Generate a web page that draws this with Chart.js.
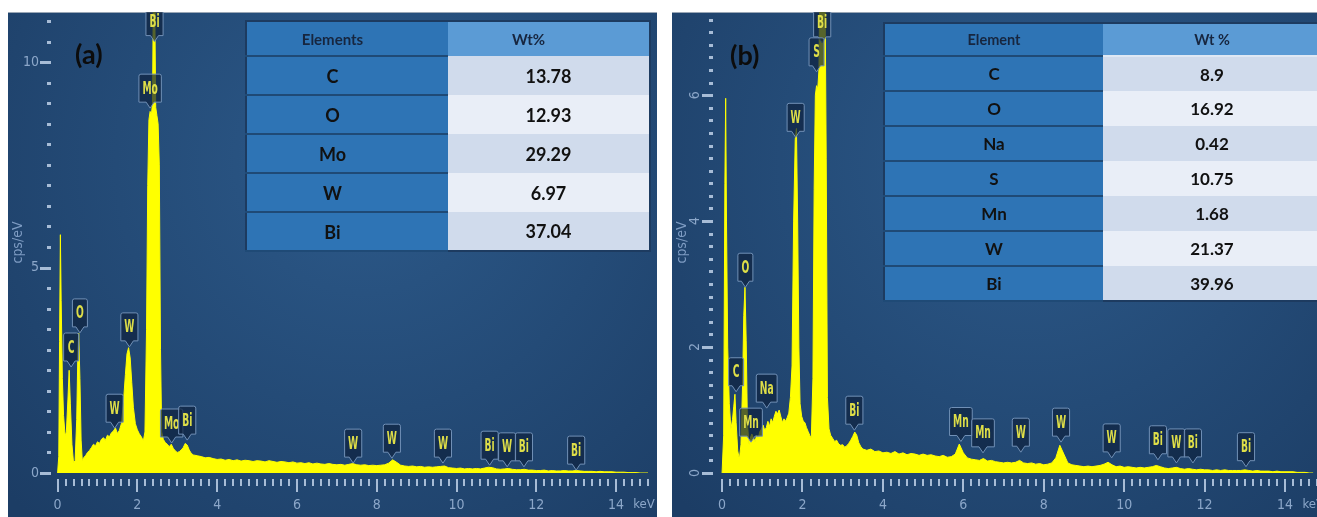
<!DOCTYPE html>
<html>
<head>
<meta charset="utf-8">
<script src="https://cdn.jsdelivr.net/npm/chart.js@4.4.0/dist/chart.umd.min.js"></script>
<style>
  body { margin: 0; background: #fff; width: 1317px; height: 517px; overflow: hidden; position: relative; font-family: Lato, sans-serif; }
  .panel { position: absolute; top: 12px; height: 505px; overflow: hidden; }
  #pa { left: 8px; width: 649px; }
  #pb { left: 672px; width: 645px; }
  .panel canvas { position: absolute; left: 0; top: 0; }
  .tag { position: absolute; font: bold 27px Lato, sans-serif; color: #0c0c0c; line-height: 1; }
  table.wt { position: absolute; border-collapse: collapse; border: 2px solid #1d3b60; table-layout: fixed; font-family: Lato, sans-serif; font-weight: bold; }
  table.wt td { padding: 0; text-align: center; color: #111; }
  table.wt td.el { background: #2e74b5; border-bottom: 2px solid #1f4a76; }
  table.wt tr.hd td { color: #17263f; }
  table.wt tr.hd td.v { background: #5b9bd5; }
  table.wt tr.odd td.v { background: #d0dbec; }
  table.wt tr.even td.v { background: #e9eef7; }
  #ta { left: 237px; top: 8px; width: 406px; }
  #ta td { height: 37px; font-size: 18px; }
  #ta td.el { padding-right: 30px; }
  #ta tr.hd td { height: 33px; font-size: 15px; }
  #ta tr.hd td.v { padding-right: 40px; }
  #tb { left: 211px; top: 10px; width: 440px; }
  #tb td { height: 33px; font-size: 17px; }
  #tb tr.hd td { height: 31px; font-size: 14.5px; }
  #tb tr.hd td.v { border-bottom: 2px solid #dfe8f4; }
</style>
</head>
<body>
<div class="panel" id="pa"><canvas id="chartA" width="649" height="505"></canvas><table class="wt" id="ta"></table></div>
<div class="panel" id="pb"><canvas id="chartB" width="645" height="505"></canvas><table class="wt" id="tb"></table></div>
<div class="tag" style="left:75px;top:40px">(a)</div>
<div class="tag" style="left:730px;top:41px">(b)</div>
<script>
// spectrum (a)
const keVA = [
  0.00,0.03,0.05,0.07,0.09,0.12,0.15,0.19,0.22,0.26,
  0.29,0.32,0.36,0.40,0.44,0.48,0.51,0.53,0.56,0.59,
  0.62,0.66,0.70,0.75,0.80,0.85,0.90,0.95,1.00,1.05,
  1.10,1.15,1.20,1.25,1.30,1.35,1.40,1.45,1.50,1.55,
  1.60,1.65,1.70,1.74,1.78,1.82,1.86,1.90,1.95,2.00,
  2.05,2.10,2.15,2.19,2.23,2.26,2.29,2.32,2.35,2.38,
  2.40,2.42,2.44,2.46,2.49,2.52,2.55,2.58,2.61,2.65,
  2.70,2.75,2.80,2.85,2.90,2.95,3.00,3.05,3.10,3.15,
  3.20,3.25,3.30,3.35,3.40,3.50,3.60,3.70,3.80,3.90,
  4.0,4.1,4.2,4.3,4.4,4.5,4.6,4.7,4.8,4.9,
  5.0,5.1,5.2,5.3,5.4,5.5,5.6,5.7,5.8,5.9,
  6.0,6.1,6.2,6.3,6.4,6.5,6.6,6.7,6.8,6.9,
  7.0,7.1,7.2,7.3,7.4,7.5,7.6,7.7,7.8,7.9,
  8.0,8.1,8.2,8.3,8.4,8.5,8.6,8.7,8.8,8.9,
  9.0,9.1,9.2,9.3,9.4,9.5,9.6,9.7,9.8,9.9,
  10.0,10.1,10.2,10.3,10.4,10.5,10.6,10.7,10.8,10.9,
  11.0,11.1,11.2,11.3,11.4,11.5,11.6,11.7,11.8,11.9,
  12.0,12.1,12.2,12.3,12.4,12.5,12.6,12.7,12.8,12.9,
  13.0,13.1,13.2,13.3,13.4,13.5,13.6,13.7,13.8,13.9,
  14.0,14.1,14.2,14.3,14.4,14.5,14.6,14.7,14.8
];
const cpsA = [
  0,0.4,3.2,5.8,4.2,2.3,1.4,0.9,1.0,1.8,
  2.5,1.7,0.7,0.25,0.3,1.3,3.0,3.4,2.3,0.8,
  0.3,0.38,0.42,0.5,0.55,0.62,0.7,0.66,0.76,0.72,
  0.82,0.86,0.8,0.92,0.88,0.98,1.02,1.1,0.96,1.04,
  1.2,1.7,2.4,2.9,3.05,2.8,2.2,1.6,1.2,1.05,
  0.95,0.88,0.78,1.0,3.5,7.0,8.6,8.8,8.7,9.0,
  11.6,12.5,11.0,8.9,8.7,8.5,7.5,3.0,1.0,0.82,
  0.74,0.7,0.64,0.7,0.6,0.54,0.5,0.52,0.56,0.62,
  0.72,0.68,0.56,0.48,0.44,0.42,0.4,0.37,0.38,0.35,
  0.33,0.34,0.31,0.33,0.3,0.32,0.29,0.31,0.3,0.28,
  0.3,0.29,0.27,0.3,0.28,0.26,0.28,0.27,0.25,0.27,
  0.24,0.25,0.23,0.25,0.22,0.24,0.22,0.21,0.23,0.21,
  0.2,0.21,0.19,0.21,0.23,0.2,0.19,0.2,0.18,0.19,
  0.18,0.19,0.2,0.24,0.32,0.26,0.19,0.17,0.16,0.17,
  0.15,0.16,0.14,0.15,0.14,0.15,0.16,0.17,0.13,0.12,
  0.11,0.12,0.1,0.11,0.1,0.11,0.1,0.12,0.14,0.13,
  0.1,0.09,0.1,0.11,0.09,0.08,0.08,0.09,0.07,0.07,
  0.06,0.06,0.07,0.05,0.06,0.05,0.05,0.06,0.05,0.05,
  0.06,0.05,0.04,0.04,0.04,0.03,0.04,0.03,0.03,0.03,
  0.02,0.02,0.02,0.01,0.01,0.01,0,0,0
];
// spectrum (b)
const keVB = [
  0.00,0.04,0.07,0.09,0.11,0.14,0.18,0.22,0.26,0.29,
  0.32,0.35,0.39,0.43,0.47,0.51,0.54,0.57,0.60,0.63,
  0.67,0.70,0.74,0.78,0.82,0.86,0.90,0.94,0.98,1.02,
  1.06,1.10,1.14,1.18,1.22,1.26,1.30,1.34,1.38,1.42,
  1.46,1.50,1.54,1.58,1.62,1.66,1.70,1.74,1.78,1.82,
  1.85,1.88,1.91,1.94,1.98,2.02,2.06,2.10,2.14,2.18,
  2.22,2.26,2.29,2.32,2.35,2.38,2.41,2.44,2.47,2.50,
  2.53,2.56,2.59,2.62,2.66,2.70,2.75,2.80,2.85,2.90,
  2.95,3.00,3.05,3.10,3.15,3.20,3.25,3.30,3.35,3.40,
  3.45,3.50,3.60,3.70,3.80,3.90,
  4.0,4.1,4.2,4.3,4.4,4.5,4.6,4.7,4.8,4.9,
  5.0,5.1,5.2,5.3,5.4,5.5,5.6,5.7,5.8,5.9,
  6.0,6.1,6.2,6.3,6.4,6.5,6.6,6.7,6.8,6.9,
  7.0,7.1,7.2,7.3,7.4,7.5,7.6,7.7,7.8,7.9,
  8.0,8.1,8.2,8.3,8.4,8.5,8.6,8.7,8.8,8.9,
  9.0,9.1,9.2,9.3,9.4,9.5,9.6,9.7,9.8,9.9,
  10.0,10.1,10.2,10.3,10.4,10.5,10.6,10.7,10.8,10.9,
  11.0,11.1,11.2,11.3,11.4,11.5,11.6,11.7,11.8,11.9,
  12.0,12.1,12.2,12.3,12.4,12.5,12.6,12.7,12.8,12.9,
  13.0,13.1,13.2,13.3,13.4,13.5,13.6,13.7,13.8,13.9,
  14.0,14.1,14.2,14.3,14.4,14.5,14.6,14.7
];
const cpsB = [
  0,0.6,4.6,5.95,4.0,2.0,1.1,0.7,0.85,1.05,
  1.25,0.8,0.35,0.22,0.45,1.4,2.5,2.95,2.1,0.8,
  0.45,0.55,0.62,0.56,0.5,0.6,0.55,0.66,0.7,0.76,
  0.68,0.72,0.82,0.74,0.86,0.8,0.9,0.98,0.94,1.0,
  0.9,0.8,0.86,0.82,0.88,0.95,1.2,1.7,4.0,5.3,
  5.47,4.0,2.0,1.1,0.9,0.82,0.8,0.72,0.66,0.6,
  0.55,1.5,4.5,6.0,6.15,6.1,6.4,8.5,8.9,8.8,
  8.4,7.8,5.0,1.2,0.7,0.6,0.55,0.5,0.52,0.46,
  0.44,0.45,0.41,0.43,0.47,0.52,0.58,0.65,0.6,0.48,
  0.42,0.38,0.36,0.38,0.34,0.35,
  0.32,0.33,0.31,0.34,0.3,0.32,0.29,0.31,0.3,0.28,
  0.3,0.28,0.29,0.27,0.26,0.28,0.25,0.26,0.3,0.46,
  0.32,0.24,0.22,0.21,0.2,0.23,0.19,0.2,0.18,0.17,
  0.16,0.17,0.16,0.17,0.2,0.16,0.15,0.16,0.14,0.15,
  0.13,0.14,0.16,0.24,0.44,0.3,0.16,0.13,0.12,0.11,
  0.1,0.11,0.1,0.11,0.12,0.14,0.17,0.13,0.1,0.11,
  0.09,0.1,0.09,0.08,0.09,0.08,0.09,0.1,0.12,0.1,
  0.08,0.07,0.08,0.09,0.07,0.06,0.07,0.06,0.05,0.06,
  0.05,0.05,0.04,0.05,0.04,0.05,0.04,0.04,0.04,0.04,
  0.05,0.04,0.03,0.04,0.03,0.03,0.03,0.02,0.03,0.02,
  0.02,0.02,0.02,0.01,0.01,0.01,0,0
];

// peak tags: element, keV, value the pointer touches
const peakNamesA = ['Bi','Mo','O','C','W','W','Mo','Bi','W','W','W','Bi','W','Bi','Bi'];
const peakKeVA   = [2.43,2.32,0.56,0.34,1.80,1.43,2.86,3.25,7.41,8.38,9.66,10.83,11.27,11.69,13.0];
const peakTipA   = [10.5,8.88,3.41,2.58,3.07,1.09,0.73,0.8,0.24,0.36,0.24,0.19,0.15,0.15,0.07];
const peakNamesB = ['Bi','S','W','O','C','Mn','Na','Bi','Mn','Mn','W','W','W','Bi','W','Bi','Bi'];
const peakKeVB   = [2.49,2.35,1.83,0.58,0.35,0.72,1.11,3.29,5.94,6.49,7.43,8.43,9.69,10.84,11.3,11.71,13.03];
const peakTipB   = [6.83,6.37,5.33,2.95,1.29,0.49,1.03,0.68,0.5,0.32,0.33,0.49,0.24,0.21,0.16,0.16,0.1];

const xTicks = [0,2,4,6,8,10,12,14];
const yTicksA = [0,5,10];
const yTicksB = [0,2,4,6];

// composition tables
const headA = ['Elements','Wt%'];
const elementsA = ['C','O','Mo','W','Bi'];
const wtA = ['13.78','12.93','29.29','6.97','37.04'];
const headB = ['Element','Wt %'];
const elementsB = ['C','O','Na','S','Mn','W','Bi'];
const wtB = ['8.9','16.92','0.42','10.75','1.68','21.37','39.96'];

function buildTable(id, head, els, vals) {
  let html = '<tr class="hd"><td class="el">' + head[0] + '</td><td class="v">' + head[1] + '</td></tr>';
  els.forEach((e, i) => {
    html += '<tr class="' + (i % 2 ? 'even' : 'odd') + '"><td class="el">' + e + '</td><td class="v">' + vals[i] + '</td></tr>';
  });
  document.getElementById(id).innerHTML = html;
}
buildTable('ta', headA, elementsA, wtA);
buildTable('tb', headB, elementsB, wtB);

const labelFont = '"DejaVu Sans Condensed", "DejaVu Sans", sans-serif';

const edsDecor = {
  id: 'edsDecor',
  beforeDraw(chart) {
    const { ctx, width, height } = chart;
    const g = ctx.createRadialGradient(width * 0.55, height * 0.3, 10, width * 0.55, height * 0.3, width * 0.75);
    g.addColorStop(0, '#2c5989');
    g.addColorStop(1, '#1c3d65');
    ctx.save();
    ctx.fillStyle = g;
    ctx.fillRect(0, 0, width, height);
    ctx.fillStyle = '#9aa7b6';
    ctx.fillRect(0, 0, width, 1);
    ctx.restore();
  },
  afterDatasetsDraw(chart, args, o) {
    const { ctx, scales: { x, y } } = chart;
    ctx.save();
    ctx.font = 'bold 12px ' + labelFont;
    ctx.textAlign = 'center';
    ctx.textBaseline = 'middle';
    for (let i = 0; i < o.names.length; i++) {
      const name = o.names[i];
      const cx = x.getPixelForValue(o.keV[i]);
      const tip = y.getPixelForValue(o.tip[i]);
      const w = Math.max(15, ctx.measureText(name).width * 0.85 + 7);
      const bot = tip - 6, top = bot - 28;
      const x0 = cx - w / 2, x1 = cx + w / 2, r = 2;
      ctx.beginPath();
      ctx.moveTo(x0 + r, top);
      ctx.lineTo(x1 - r, top);
      ctx.quadraticCurveTo(x1, top, x1, top + r);
      ctx.lineTo(x1, bot);
      ctx.lineTo(cx + 4, bot);
      ctx.lineTo(cx, tip);
      ctx.lineTo(cx - 4, bot);
      ctx.lineTo(x0, bot);
      ctx.lineTo(x0, top + r);
      ctx.quadraticCurveTo(x0, top, x0 + r, top);
      ctx.closePath();
      ctx.fillStyle = 'rgba(14, 34, 62, 0.7)';
      ctx.fill();
      ctx.strokeStyle = '#7190b6';
      ctx.lineWidth = 1;
      ctx.stroke();
      ctx.save();
      ctx.translate(cx, (top + bot) / 2 + 1);
      ctx.scale(0.85, 1.45);
      ctx.fillStyle = '#dede48';
      ctx.fillText(name, 0, 0);
      ctx.restore();
    }
    ctx.restore();
  },
  afterDraw(chart, args, o) {
    const { ctx, chartArea: { left, bottom }, scales: { x, y } } = chart;
    ctx.save();
    ctx.fillStyle = '#a7bcd6';
    // x ticks every 0.2 keV, long ones every 2 keV
    const nx = Math.round(o.xEnd / 0.2);
    for (let i = 0; i <= nx; i++) {
      const px = Math.round(x.getPixelForValue(i * 0.2));
      const major = i % 10 === 0;
      ctx.fillRect(px - 1, bottom + 6, 2, major ? 13 : 7);
    }
    // y ticks
    const ny = Math.floor(y.max / o.yMinor);
    for (let i = 0; i <= ny; i++) {
      const v = i * o.yMinor;
      const py = Math.round(y.getPixelForValue(v));
      const major = o.yTicks.some(t => Math.abs(t - v) < 1e-6);
      if (major) ctx.fillRect(left - 8, py - 1, 11, 3);
      else ctx.fillRect(left - 1, py - 1, 4, 3);
    }
    ctx.fillStyle = '#8ca7c9';
    ctx.font = '14px ' + labelFont;
    ctx.textBaseline = 'middle';
    o.yTicks.forEach(t => {
      const py = y.getPixelForValue(t);
      if (o.rotateY) {
        ctx.save();
        ctx.translate(left - 15, py);
        ctx.rotate(-Math.PI / 2);
        ctx.textAlign = 'center';
        ctx.fillText(String(t), 0, 0);
        ctx.restore();
      } else {
        ctx.textAlign = 'right';
        ctx.fillText(String(t), left - 9, py);
      }
    });
    ctx.textAlign = 'center';
    ctx.font = '13px ' + labelFont;
    ctx.fillText('keV', x.getPixelForValue(14.7), bottom + 32);
    ctx.restore();
  }
};

function makeChart(id, keV, cps, opt) {
  const points = keV.map((k, i) => ({ x: k, y: cps[i] }));
  return new Chart(document.getElementById(id), {
    type: 'line',
    data: {
      datasets: [{
        data: points,
        borderColor: '#ffff00',
        backgroundColor: '#ffff00',
        borderWidth: 1,
        fill: 'origin',
        pointRadius: 0,
        tension: 0
      }]
    },
    options: {
      responsive: false,
      animation: false,
      events: [],
      layout: { padding: { left: 0, right: opt.padRight, top: 0, bottom: 0 } },
      plugins: {
        legend: { display: false },
        tooltip: { enabled: false },
        edsDecor: {
          names: opt.names, keV: opt.peakKeV, tip: opt.peakTip,
          yTicks: opt.yTicks, yMinor: opt.yMinor, rotateY: opt.rotateY, xEnd: opt.xMax
        }
      },
      scales: {
        x: {
          type: 'linear',
          min: opt.xMin,
          max: opt.xMax,
          afterBuildTicks: s => { s.ticks = xTicks.map(v => ({ value: v })); },
          afterFit: s => { s.height = 44; },
          grid: { display: false, drawTicks: false },
          border: { display: false },
          ticks: { color: '#8ca7c9', font: { size: 14, family: labelFont }, padding: 24, maxRotation: 0, autoSkip: false }
        },
        y: {
          type: 'linear',
          min: 0,
          max: opt.yMax,
          afterFit: s => { s.width = opt.yWidth; },
          grid: { display: false, drawTicks: false },
          border: { display: false },
          ticks: { display: false },
          title: { display: true, text: 'cps/eV', color: '#7e9cc3', font: { size: 14, family: labelFont }, padding: { top: 2, bottom: 0 } }
        }
      }
    },
    plugins: [edsDecor]
  });
}

makeChart('chartA', keVA, cpsA, {
  xMin: -0.24, xMax: 14.8, yMax: 11.22, yWidth: 40, padRight: 9,
  yTicks: yTicksA, yMinor: 0.5, rotateY: false,
  names: peakNamesA, peakKeV: peakKeVA, peakTip: peakTipA
});
makeChart('chartB', keVB, cpsB, {
  xMin: -0.3, xMax: 14.73, yMax: 7.32, yWidth: 38, padRight: 0,
  yTicks: yTicksB, yMinor: 0.2, rotateY: true,
  names: peakNamesB, peakKeV: peakKeVB, peakTip: peakTipB
});
</script>
</body>
</html>
